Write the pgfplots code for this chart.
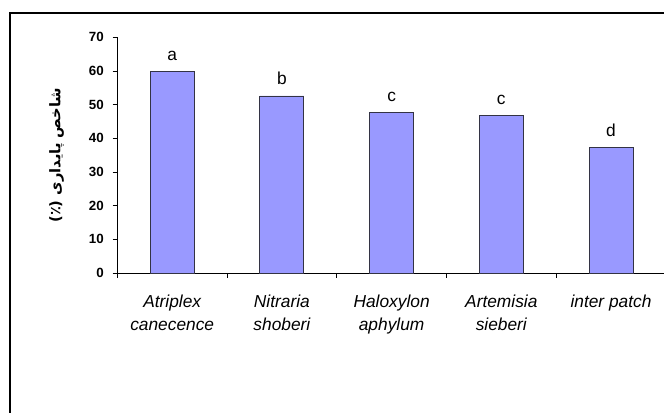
\documentclass[border=0pt]{standalone}
\usepackage{pgfplots}
\pgfplotsset{compat=1.18}
\usepackage{fontspec}
\setmainfont{Liberation Sans}
\newfontfamily\arabicfont[Script=Arabic]{DejaVu Sans}
\TeXXeTstate=1
\definecolor{barfill}{HTML}{9999FF}
\definecolor{baredge}{HTML}{333344}
\begin{document}
\begin{tikzpicture}
\path[use as bounding box] (0,0) rectangle (498pt,309pt);
\begin{scope}
\clip (0,0) rectangle (498pt,309pt);
\draw[line width=1.2pt, black] (7.5pt,-2pt) -- (7.5pt,299.25pt) -- (500pt,299.25pt);
\begin{axis}[
  at={(88pt,104.25pt)}, anchor=south west,
  scale only axis,
  width=411.4pt, height=176.7pt,
  xmin=-0.5, xmax=4.5, ymin=0, ymax=70,
  axis x line*=bottom, axis y line*=left,
  axis line style={black, line width=0.6pt},
  ytick={0,10,...,70},
  xtick={-0.5,0.5,...,4.5},
  x tick label as interval,
  xticklabels={{Atriplex\\canecence},{Nitraria\\shoberi},{Haloxylon\\aphylum},{Artemisia\\sieberi},{inter patch\\\strut}},
  xticklabel style={font=\itshape\fontsize{13}{17.25}\selectfont, align=center, text=black, yshift=-9.5pt},
  yticklabel style={font=\bfseries\fontsize{10}{12}\selectfont, text=black, xshift=-3pt},
  tick align=outside,
  major tick length=3.6pt,
  tick style={black, line width=0.6pt},
  /pgf/number format/assume math mode=true,
  ylabel={\arabicfont\bfseries\beginR شاخص پایداری (٪)\endR},
  ylabel style={font=\fontsize{11}{13}\selectfont, yshift=12pt},
  ybar, bar width=33pt,
  nodes near coords,
  point meta=explicit symbolic,
  nodes near coords style={font=\fontsize{13}{15}\selectfont, anchor=south, yshift=4.5pt, text=black},
  clip=false,
]
\addplot[fill=barfill, draw=baredge, line width=0.6pt] coordinates {
  (0,60.0) [a]
  (1,52.6) [b]
  (2,47.6) [c]
  (3,46.8) [c]
  (4,37.2) [d]
};
\end{axis}
\end{scope}
\end{tikzpicture}
\end{document}
